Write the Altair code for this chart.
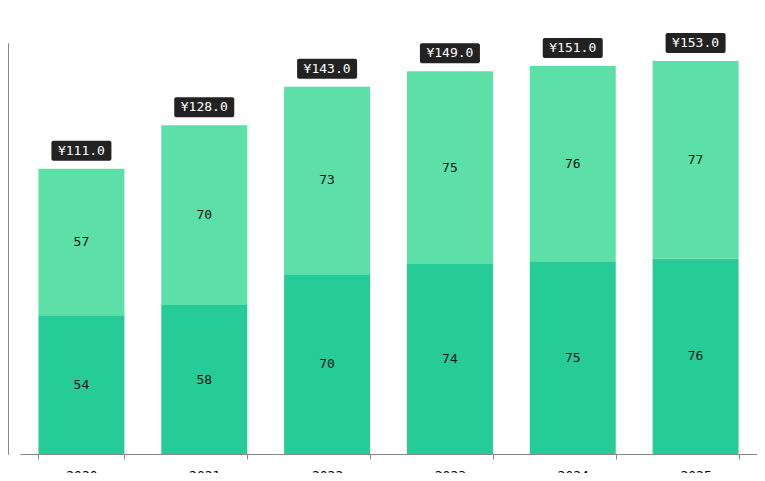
import altair as alt
import pandas as pd

years = ["2020", "2021", "2022", "2023", "2024", "2025"]
lower = [54, 58, 70, 74, 75, 76]
upper = [57, 70, 73, 75, 76, 77]
totals = [111.0, 128.0, 143.0, 149.0, 151.0, 153.0]

rows = []
for y, lo, up in zip(years, lower, upper):
    rows.append({"year": y, "part": "lower", "start": 0, "end": lo, "mid": lo / 2, "val": lo})
    rows.append({"year": y, "part": "upper", "start": lo, "end": lo + up, "mid": lo + up / 2, "val": up})
df = pd.DataFrame(rows)
tdf = pd.DataFrame({"year": years, "total": totals, "lab": [f"¥{t:.1f}" for t in totals]})

x = alt.X("year:N", scale=alt.Scale(paddingInner=0.3, paddingOuter=0.15),
          axis=alt.Axis(title=None, labelAngle=0, tickBand="extent", domainColor="#888", tickColor="#888",
                        labelFont="DejaVu Sans Mono", labelFontSize=13, labelPadding=10))
yscale = alt.Scale(domain=[0, 160])

bars = alt.Chart(df).mark_bar().encode(
    x=x,
    y=alt.Y("start:Q", scale=yscale, axis=alt.Axis(title=None, grid=False, values=[0, 40, 80, 120, 160], offset=12,
                                                   domainColor="#888", tickColor="#888")),
    y2="end:Q",
    color=alt.Color("part:N", scale=alt.Scale(domain=["lower", "upper"], range=["#26cc98", "#5ce0a8"]), legend=None),
)
inner = alt.Chart(df).mark_text(font="DejaVu Sans Mono", fontSize=13, color="#111").encode(
    x="year:N", y=alt.Y("mid:Q", scale=yscale), text="val:Q")
box = alt.Chart(tdf).mark_rect(width=60, height=20, color="#222222", yOffset=-18, cornerRadius=2).encode(
    x="year:N", y=alt.Y("total:Q", scale=yscale))
boxtext = alt.Chart(tdf).mark_text(font="DejaVu Sans Mono", fontSize=13, color="white", yOffset=-18).encode(
    x="year:N", y=alt.Y("total:Q", scale=yscale), text="lab:N")

chart = alt.layer(bars, inner, box, boxtext).properties(
    width=737, height=411,
    title=alt.TitleParams("9843.TSE 🇯🇵 ➡ AZ-Finance.com", fontSize=16, fontWeight="normal", font="DejaVu Sans", offset=26),
    autosize=alt.AutoSizeParams(type="none"),
    padding={"left": 12, "top": 35, "right": 0, "bottom": 19},
).configure_view(stroke=None)

chart.save("out.html", embed_options={"renderer": "svg", "actions": False})
